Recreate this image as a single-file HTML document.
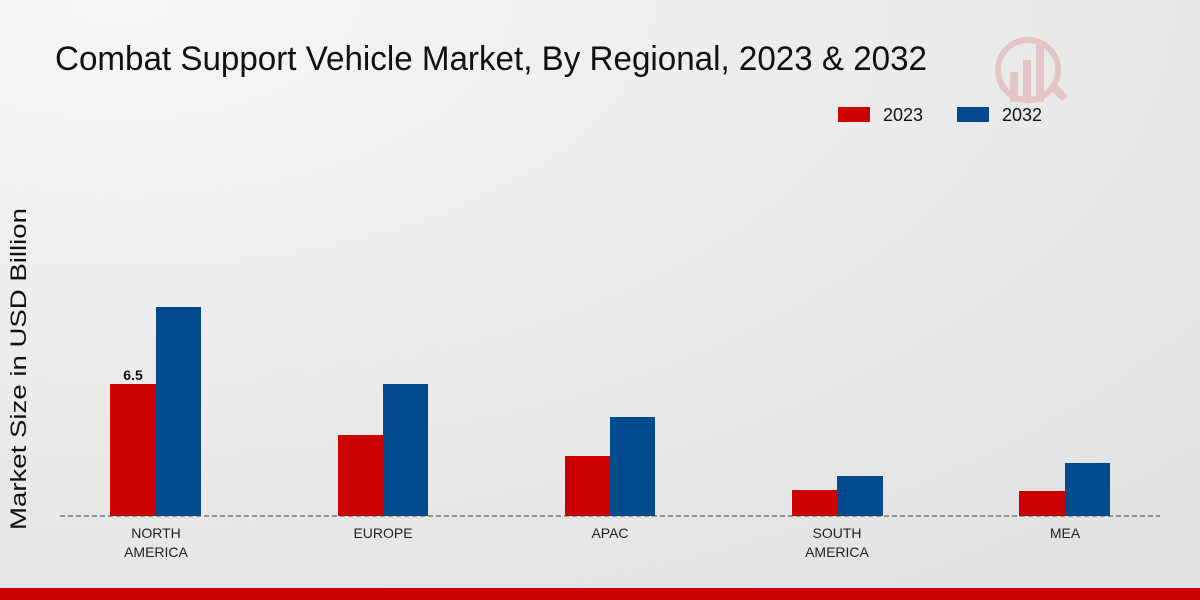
<!DOCTYPE html>
<html><head><style>
body{margin:0;width:1200px;height:600px;overflow:hidden;background:#e9e9e9;}
svg{display:block;font-family:"Liberation Sans",sans-serif;}
</style></head><body>
<svg width="1200" height="600" viewBox="0 0 1200 600">
<defs><radialGradient id="bg" cx="0.1" cy="0" r="1.2"><stop offset="0" stop-color="#f6f6f6"/><stop offset="1" stop-color="#e2e2e2"/></radialGradient></defs>
<rect width="1200" height="600" fill="url(#bg)"/>
<text x="55" y="70" font-size="34" textLength="872" lengthAdjust="spacingAndGlyphs" fill="#111">Combat Support Vehicle Market, By Regional, 2023 &amp; 2032</text>
<g opacity="0.15" fill="#c00"><circle cx="1028" cy="70" r="30" fill="none" stroke="#c00" stroke-width="6"/><rect x="1010" y="72" width="8" height="30"/><rect x="1023" y="60" width="8" height="42"/><rect x="1036" y="45" width="8" height="57"/><rect x="1050" y="85" width="18" height="8" transform="rotate(45 1055 90)"/></g>
<rect x="838" y="107" width="32" height="15" fill="#cc0000"/>
<text x="883" y="121" font-size="18" fill="#111">2023</text>
<rect x="957" y="107" width="32" height="15" fill="#004a8d"/>
<text x="1002" y="121" font-size="18" fill="#111">2032</text>
<text transform="translate(26,369) rotate(-90)" font-size="22" text-anchor="middle" textLength="322" lengthAdjust="spacingAndGlyphs" fill="#111">Market Size in USD Billion</text>
<g fill="#cc0000">
<rect x="110" y="384" width="46" height="132"/><rect x="338" y="435" width="45" height="81"/><rect x="565" y="456" width="45" height="60"/><rect x="792" y="490" width="45" height="26"/><rect x="1019" y="491" width="46" height="25"/></g>
<g fill="#004a8d">
<rect x="156" y="307" width="45" height="209"/><rect x="383" y="384" width="45" height="132"/><rect x="610" y="417" width="45" height="99"/><rect x="837" y="476" width="46" height="40"/><rect x="1065" y="463" width="45" height="53"/></g>
<line x1="60" y1="516" x2="1160" y2="516" stroke="#444" stroke-width="1" stroke-dasharray="5,3"/>
<text x="133" y="380" font-size="14" font-weight="bold" text-anchor="middle" fill="#111">6.5</text>
<g font-size="14" text-anchor="middle" fill="#222">
<text x="156" y="538">NORTH</text><text x="156" y="557">AMERICA</text>
<text x="383" y="538">EUROPE</text>
<text x="610" y="538">APAC</text>
<text x="837" y="538">SOUTH</text><text x="837" y="557">AMERICA</text>
<text x="1065" y="538">MEA</text></g>
<rect x="0" y="588" width="1200" height="12" fill="#cc0000"/>
</svg>
</body></html>
